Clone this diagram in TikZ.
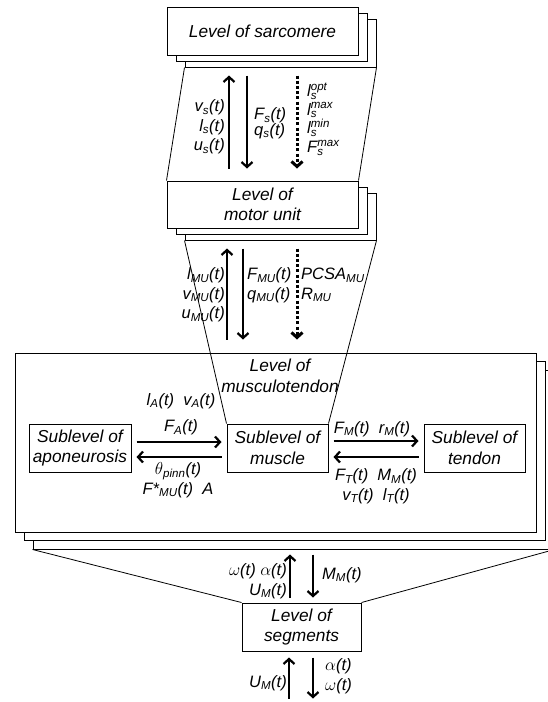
\documentclass[tikz,border=0pt]{standalone}
\usepackage{amsmath}
\usepackage{fontspec}
\setmainfont{Liberation Sans}
\usetikzlibrary{arrows.meta,positioning,shadows}

\begin{document}
\begin{tikzpicture}[
    x=1pt, y=-1pt,
    node distance=95pt,
    box/.style={draw, line width=1pt, fill=white, inner sep=0pt, font=\fontsize{17.3}{20.5}\selectfont\itshape, align=center},
    stack/.style n args={4}{
        general shadow={shadow xshift=#1, shadow yshift=-#2, fill=white, draw=black, line width=1pt},
        general shadow={shadow xshift=#3, shadow yshift=-#4, fill=white, draw=black, line width=1pt}},
    lbl/.style={font=\fontsize{16.5}{19.5}\selectfont\itshape, inner sep=0pt, align=center},
    arr/.style={-{Straight Barb[length=5pt, width=11pt]}, line width=2.2pt},
    dotarr/.style={arr, line width=3pt, dash pattern=on 3pt off 2.2pt},
    link/.style={line width=0.8pt}
]
    \useasboundingbox (0,0) rectangle (548,702);

    % Sarcomere and motor unit
    \node[box, stack={18pt}{12pt}{9pt}{6pt}, minimum width=191pt, minimum height=48pt] (sarc) at (262.5,31) {Level of sarcomere};
    \node[box, stack={18pt}{12pt}{9pt}{6pt}, minimum width=191pt, minimum height=47pt, below=125pt of sarc] (motor) {Level of\\motor unit};

    % Musculotendon
    \node[box, stack={18pt}{17pt}{9pt}{8pt}, minimum width=521pt, minimum height=179pt] (mt) at (275.5,442.5) {};
    \node[box, draw=none, fill=none] (mtname) at (280,376) {Level of\\musculotendon};
    \node[box, minimum width=101pt, minimum height=48pt] (mus) at (277.5,448) {Sublevel of\\muscle};
    \node[box, minimum width=102pt, minimum height=48pt, left=of mus] (apo) {Sublevel of\\aponeurosis};
    \node[box, minimum width=101pt, minimum height=48pt, right=of mus] (ten) {Sublevel of\\tendon};

    % Segments
    \node[box, minimum width=119pt, minimum height=48pt] (seg) at (301.5,627) {Level of\\segments};

    % Links between levels
    \draw[link] ([shift={(18,12)}]sarc.south west) -- (motor.north west);
    \draw[link] ([shift={(18,12)}]sarc.south east) -- (motor.north east);
    \draw[link] ([shift={(18,12)}]motor.south west) -- (mus.north west);
    \draw[link] ([shift={(18,12)}]motor.south east) -- (mus.north east);
    \draw[link] ([shift={(18,17)}]mt.south west) -- (seg.north west);
    \draw[link] ([shift={(18,17)}]mt.south east) -- (seg.north east);

    % Sarcomere <-> motor unit
    \draw[arr] ([shift={(-33.5,113)}]sarc.south) -- ++(0,-93);
    \draw[arr] ([shift={(-15.5,20)}]sarc.south) -- ++(0,93);
    \draw[dotarr] ([shift={(34.5,20)}]sarc.south) -- ++(0,93);
    \node[lbl, anchor=east, align=right] (sarcup) at (225,127) {v\textsubscript{s}(t)\\l\textsubscript{s}(t)\\u\textsubscript{s}(t)};
    \node[lbl, anchor=west, align=left] (sarcdown) at (254,123) {F\textsubscript{s}(t)\\[-4pt]q\textsubscript{s}(t)};
    \node[lbl, anchor=west, align=left, font=\fontsize{16.5}{18.7}\selectfont\itshape] (sarcpar) at (307,119) {l\rlap{\textsuperscript{opt}}\textsubscript{s}\\l\rlap{\textsuperscript{max}}\textsubscript{s}\\l\rlap{\textsuperscript{min}}\textsubscript{s}\\F\rlap{\textsuperscript{max}}\textsubscript{s}};

    % Motor unit <-> musculotendon
    \draw[arr] ([shift={(-35.5,111)}]motor.south) -- ++(0,-91);
    \draw[arr] ([shift={(-19.5,20)}]motor.south) -- ++(0,91);
    \draw[dotarr] ([shift={(34.5,20)}]motor.south) -- ++(0,91);
    \node[lbl, anchor=east, align=right] (motorup) at (225,295) {l\textsubscript{MU}(t)\\v\textsubscript{MU}(t)\\u\textsubscript{MU}(t)};
    \node[lbl, anchor=west, align=left] (motordown) at (247,285) {F\textsubscript{MU}(t)\\q\textsubscript{MU}(t)};
    \node[lbl, anchor=west, align=left] (motorpar) at (301,285) {PCSA\textsubscript{MU}\\R\textsubscript{MU}};

    % Sublevels
    \draw[arr, shorten <=5pt, shorten >=5pt] ([yshift=6pt]apo.east) -- ([yshift=6pt]mus.west);
    \draw[arr, shorten <=5pt, shorten >=5pt] ([yshift=-9pt]mus.west) -- ([yshift=-9pt]apo.east);
    \draw[arr, shorten <=5pt, shorten >=5pt] ([yshift=7pt]mus.east) -- ([yshift=7pt]ten.west);
    \draw[arr, shorten <=5pt, shorten >=5pt] ([yshift=-9pt]ten.west) -- ([yshift=-9pt]mus.east);
    \node[lbl] (apoin) at (181,414) {l\textsubscript{A}(t)\ \ v\textsubscript{A}(t)\\[7pt]F\textsubscript{A}(t)};
    \node[lbl] (apoout) at (178,480) {$\theta$\textsubscript{pinn}(t)\\F*\textsubscript{MU}(t)\ \ A};
    \node[lbl] (tenin) at (372,429) {F\textsubscript{M}(t)\ \ r\textsubscript{M}(t)};
    \node[lbl] (tenout) at (376,486) {F\textsubscript{T}(t)\ \ M\textsubscript{M}(t)\\v\textsubscript{T}(t)\ \ l\textsubscript{T}(t)};

    % Musculotendon <-> segments
    \draw[arr] ([shift={(-11.5,-5)}]seg.north) -- ++(0,-43);
    \draw[arr] ([shift={(11.5,-48)}]seg.north) -- ++(0,43);
    \node[lbl, anchor=east, align=right] (segup) at (287,581) {$\omega$(t)\ $\alpha$(t)\\U\textsubscript{M}(t)};
    \node[lbl, anchor=west] (segdown) at (322,575) {M\textsubscript{M}(t)};

    % Segments <-> joints
    \draw[arr] ([shift={(-12.5,47)}]seg.south) -- ++(0,-41);
    \draw[arr] ([shift={(11.5,6)}]seg.south) -- ++(0,41);
    \node[lbl, anchor=east] (jointup) at (287,683) {U\textsubscript{M}(t)};
    \node[lbl, anchor=west, align=left] (jointdown) at (325,676) {$\alpha$(t)\\$\omega$(t)};
\end{tikzpicture}
\end{document}
